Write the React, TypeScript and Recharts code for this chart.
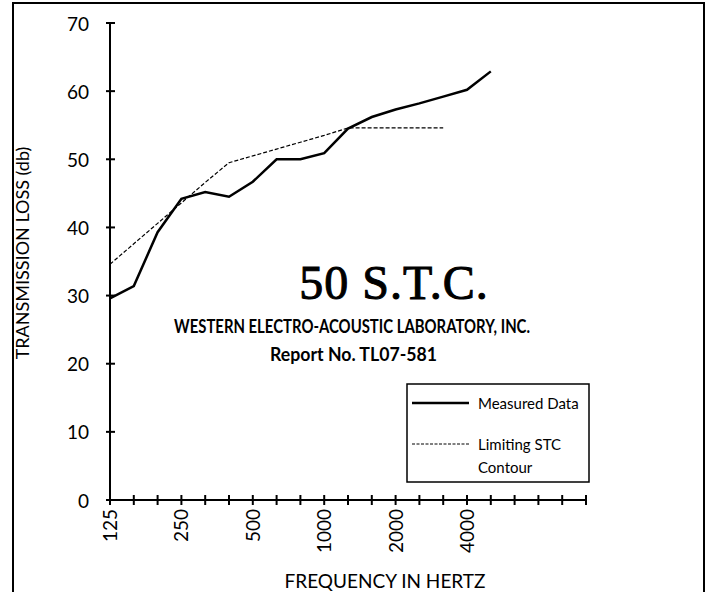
import React from 'react';
import { LineChart, Line, XAxis, YAxis, Customized } from 'recharts';

// 1/3 octave bands shown on the frequency axis
const bands = ['125', '160', '200', '250', '315', '400', '500', '630', '800', '1000', '1250', '1600', '2000', '2500', '3150', '4000', '5000', '6300', '8000', '10000', '12500'];
const bandLabels = ['125', '', '', '250', '', '', '500', '', '', '1000', '', '', '2000', '', '', '4000', '', '', '', '', ''];

// transmission loss, dB, 125 Hz .. 5000 Hz
const measured = [29.6, 31.4, 39.3, 44.2, 45.2, 44.5, 46.7, 50, 50, 50.9, 54.5, 56.2, 57.3, 58.2, 59.2, 60.2, 62.9];
// STC 50 contour, 125 Hz .. 3150 Hz
const contour = [34.6, 37.6, 40.6, 43.6, 46.6, 49.5, 50.5, 51.5, 52.5, 53.5, 54.6, 54.6, 54.6, 54.6, 54.6];

const yTicks = [0, 10, 20, 30, 40, 50, 60, 70];

const FONT = 'Lato, "Open Sans", sans-serif';

const data = bands.map((f, i) => ({
  freq: f,
  measured: measured[i],
  contour: contour[i],
}));

function YTick(props: any) {
  const { x, y, payload } = props;
  return (
    <g>
      <line x1={x - 4} x2={x + 5} y1={y} y2={y} stroke="#000" strokeWidth={2} />
      <text x={x - 21} y={y} textAnchor="end" dominantBaseline="central" fontSize={19} fontFamily={FONT} fill="#000">
        {payload.value}
      </text>
    </g>
  );
}

function XTick(props: any) {
  const { x, y, index } = props;
  const label = bandLabels[index];
  return (
    <g>
      <line x1={x} x2={x} y1={y - 5} y2={y + 5} stroke="#000" strokeWidth={2} />
      {label && (
        <text
          x={x + 7}
          y={y + 9}
          transform={`rotate(-90 ${x + 7} ${y + 9})`}
          textAnchor="end"
          fontSize={19}
          fontFamily={FONT}
          fill="#000"
        >
          {label}
        </text>
      )}
    </g>
  );
}

function Annotations() {
  return (
    <g>
      <text
        x={394}
        y={299}
        textAnchor="middle"
        fontSize={48}
        letterSpacing={1}
        fontFamily='"Liberation Serif", serif'
        fill="#000"
        stroke="#000"
        strokeWidth={1}
      >
        50 S.T.C.
      </text>
      <text
        x={174}
        y={333}
        fontSize={19.5}
        fontWeight="bold"
        fontFamily={FONT}
        fill="#000"
        textLength={356}
        lengthAdjust="spacingAndGlyphs"
      >
        WESTERN ELECTRO-ACOUSTIC LABORATORY, INC.
      </text>
      <text
        x={270}
        y={361}
        fontSize={19}
        fontWeight="bold"
        fontFamily={FONT}
        fill="#000"
        textLength={167}
        lengthAdjust="spacingAndGlyphs"
      >
        Report No. TL07-581
      </text>
      <text x={22} y={253} transform="rotate(-90 22 253)" textAnchor="middle" dominantBaseline="central" fontSize={18} fontFamily={FONT} fill="#000">
        TRANSMISSION LOSS (db)
      </text>
      <text x={385} y={588} textAnchor="middle" fontSize={19} fontFamily={FONT} fill="#000">
        FREQUENCY IN HERTZ
      </text>
      {/* legend */}
      <rect x={407} y={384} width={182} height={98} fill="#fff" stroke="#000" strokeWidth={1.5} />
      <line x1={412} x2={469} y1={403} y2={403} stroke="#000" strokeWidth={2.5} />
      <text x={478} y={403} dominantBaseline="central" fontSize={15} fontFamily={FONT} fill="#000">
        Measured Data
      </text>
      <line x1={412} x2={470} y1={444} y2={444} stroke="#000" strokeWidth={1} strokeDasharray="3 1.5" />
      <text x={478} y={444} dominantBaseline="central" fontSize={15} fontFamily={FONT} fill="#000">
        Limiting STC
      </text>
      <text x={478} y={467} dominantBaseline="central" fontSize={15} fontFamily={FONT} fill="#000">
        Contour
      </text>
    </g>
  );
}

export default function App() {
  return (
    <div style={{ position: 'absolute', left: 0, top: 0, width: 709, height: 592, overflow: 'hidden', background: '#fff' }}>
      <div
        style={{
          position: 'absolute',
          left: 12,
          top: 2,
          width: 693,
          height: 640,
          boxSizing: 'border-box',
          border: '2.5px solid #000',
        }}
      />
      <div style={{ position: 'absolute', left: 0, top: 0 }}>
        <LineChart width={709} height={592} data={data} margin={{ top: 23, right: 123, bottom: 0, left: 0 }}>
          <XAxis
            dataKey="freq"
            interval={0}
            tickSize={0}
            tickMargin={0}
            tick={<XTick />}
            axisLine={{ stroke: '#000', strokeWidth: 2 }}
            tickLine={false}
            height={92}
          />
          <YAxis
            width={110}
            domain={[0, 70]}
            ticks={yTicks}
            interval={0}
            tickSize={0}
            tickMargin={0}
            tick={<YTick />}
            axisLine={{ stroke: '#000', strokeWidth: 2 }}
            tickLine={false}
          />
          <Line
            dataKey="contour"
            name="Limiting STC Contour"
            stroke="#000"
            strokeWidth={1.2}
            strokeDasharray="4 2"
            dot={false}
            isAnimationActive={false}
            type="linear"
          />
          <Line
            dataKey="measured"
            name="Measured Data"
            stroke="#000"
            strokeWidth={2.5}
            dot={false}
            isAnimationActive={false}
            type="linear"
          />
          <Customized component={<Annotations />} />
        </LineChart>
      </div>
    </div>
  );
}
